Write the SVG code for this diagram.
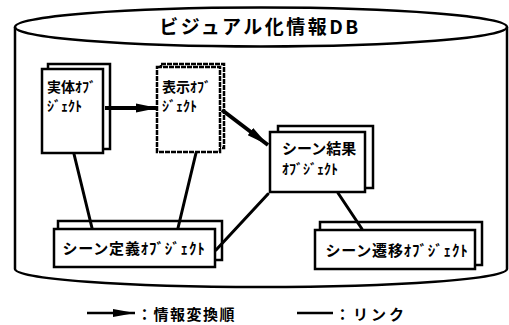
<svg xmlns="http://www.w3.org/2000/svg" width="509" height="325" viewBox="0 0 509 325">
<style>
.t{font-family:"Noto Sans CJK JP","Noto Sans CJK SC",sans-serif;font-weight:bold;fill:#000}
.pg{fill:#fff;stroke:#000;stroke-width:2.5}
.dash{stroke-dasharray:5 1}
.lk{stroke:#000;stroke-width:3;fill:none;stroke-linecap:round}
.ar{stroke:#000;stroke-width:4;fill:none}
</style>
<defs>
<marker id="ah" markerUnits="userSpaceOnUse" markerWidth="24" markerHeight="12" refX="22" refY="6" orient="auto">
<path d="M0,1.5 L22,6 L0,10.5 Z" fill="#000"/>
</marker>
<marker id="ahs" markerUnits="userSpaceOnUse" markerWidth="24" markerHeight="10" refX="22" refY="5" orient="auto">
<path d="M0,1 L22,5 L0,9 Z" fill="#000"/>
</marker>
</defs>
<rect width="509" height="325" fill="#fff"/>
<g id="db">
<path d="M15,27 L15,269 A246,18 0 0 0 507,269 L507,27" fill="none" stroke="#000" stroke-width="2.5"/>
<ellipse cx="261" cy="27" rx="246" ry="19.5" fill="none" stroke="#000" stroke-width="2.5"/>
<text class="t" x="260" y="34" font-size="19" letter-spacing="2.5" text-anchor="middle">ビジュアル化情報DB</text>
</g>
<g id="jittai">
<rect class="pg" x="48" y="64" width="62" height="85"/>
<rect class="pg" x="42" y="69" width="61" height="84"/>
<text class="t" x="47" y="92" font-size="14">実体ｵﾌﾞ</text>
<text class="t" x="47" y="111" font-size="14">ｼﾞｪｸﾄ</text>
</g>
<g id="hyouji">
<rect class="pg dash" x="161" y="64" width="63" height="84"/>
<rect class="pg dash" x="157" y="67" width="63" height="85"/>
<text class="t" x="162" y="92" font-size="14">表示ｵﾌﾞ</text>
<text class="t" x="162" y="111" font-size="14">ｼﾞｪｸﾄ</text>
</g>
<g id="kekka">
<rect class="pg" x="278" y="126" width="95" height="62"/>
<rect class="pg" x="270" y="132" width="95" height="60"/>
<text class="t" x="282" y="154" font-size="15">シーン結果</text>
<text class="t" x="282" y="174" font-size="14">ｵﾌﾞｼﾞｪｸﾄ</text>
</g>
<g id="teigi">
<rect class="pg" x="58" y="221" width="164" height="39"/>
<rect class="pg" x="54" y="229" width="161" height="38"/>
<text class="t" x="134" y="254" font-size="15" letter-spacing="0.8" text-anchor="middle">シーン定義ｵﾌﾞｼﾞｪｸﾄ</text>
</g>
<g id="seni">
<rect class="pg" x="320" y="222" width="162" height="43"/>
<rect class="pg" x="315" y="230" width="160" height="39"/>
<text class="t" x="397" y="256" font-size="15" letter-spacing="0.8" text-anchor="middle">シーン遷移ｵﾌﾞｼﾞｪｸﾄ</text>
</g>
<g id="connectors">
<line class="ar" x1="105" y1="108" x2="158" y2="108" marker-end="url(#ah)"/>
<line class="ar" x1="222" y1="110" x2="268" y2="145" marker-end="url(#ah)"/>
<line class="lk" x1="74" y1="154" x2="92" y2="228"/>
<line class="lk" x1="196" y1="153" x2="178" y2="228"/>
<line class="lk" x1="268" y1="194" x2="216" y2="250"/>
<line class="lk" x1="338" y1="193" x2="362" y2="229"/>
</g>
<g id="legend">
<line x1="87" y1="313" x2="135" y2="313" stroke="#000" stroke-width="2.5" marker-end="url(#ahs)"/>
<text class="t" x="137" y="320" font-size="15" letter-spacing="1.5">：情報変換順</text>
<line x1="297" y1="313" x2="333" y2="313" stroke="#000" stroke-width="2.5"/>
<text class="t" x="335" y="320" font-size="15" letter-spacing="3">：リンク</text>
</g>
</svg>
